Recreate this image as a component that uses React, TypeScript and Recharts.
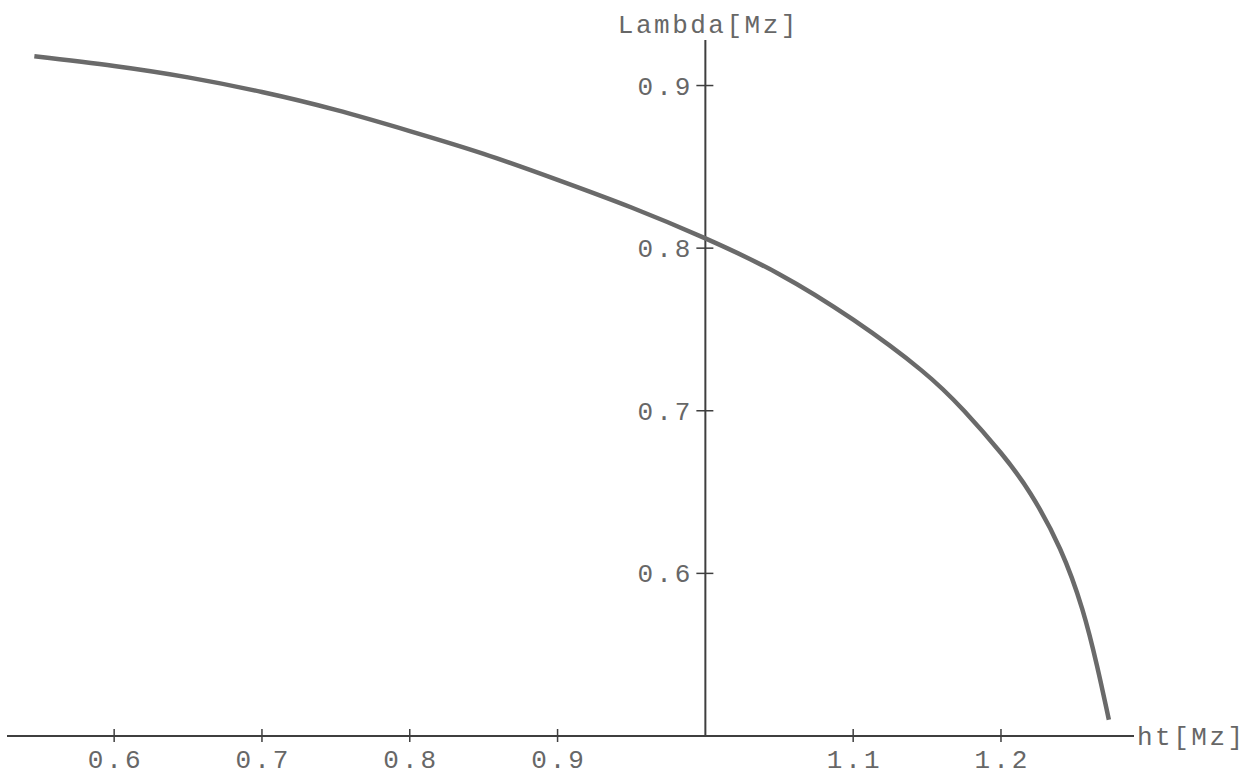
import { LineChart, Line, XAxis, YAxis, ReferenceLine, ReferenceDot } from 'recharts';

// curve: ht [Mz] -> Lambda [Mz]
const htValues = [0.546, 0.6, 0.65, 0.7, 0.75, 0.8, 0.85, 0.9, 0.95, 1.0, 1.05, 1.1, 1.146, 1.175, 1.2, 1.22, 1.24, 1.255, 1.265, 1.273];
const lambdaValues = [0.918, 0.912, 0.905, 0.896, 0.885, 0.872, 0.858, 0.842, 0.825, 0.806, 0.784, 0.756, 0.725, 0.7, 0.674, 0.649, 0.615, 0.578, 0.543, 0.51];

const xTicks = [0.6, 0.7, 0.8, 0.9, 1.1, 1.2];
const yTicks = [0.6, 0.7, 0.8, 0.9];
const xDomain = [0.5275, 1.29];
const yDomain = [0.5, 0.928];
const xLabel = 'ht[Mz]';
const yLabel = 'Lambda[Mz]';

const data = htValues.map((x, i) => ({ x, y: lambdaValues[i] }));

const FONT = '"Liberation Mono", "DejaVu Sans Mono", monospace';
const TEXT = '#676767';
const AXIS = '#3f3f3f';

function XTick(props: any) {
  const { x, y, payload } = props;
  return (
    <g>
      <line x1={x} x2={x} y1={y - 7} y2={y + 6} stroke={AXIS} strokeWidth={1.5} />
      <text
        x={x + 1.5}
        y={y + 32}
        textAnchor="middle"
        fontFamily={FONT}
        fontSize={26}
        letterSpacing={3}
        fill={TEXT}
      >
        {String(payload.value)}
      </text>
    </g>
  );
}

function YTick(props: any) {
  const { cx, cy, label } = props;
  if (cx == null || cy == null) return null;
  return (
    <g>
      <line x1={cx - 9} x2={cx + 8} y1={cy} y2={cy} stroke={AXIS} strokeWidth={1.5} />
      <text
        x={cx - 12}
        y={cy + 9}
        textAnchor="end"
        fontFamily={FONT}
        fontSize={26}
        letterSpacing={3}
        fill={TEXT}
      >
        {label}
      </text>
    </g>
  );
}

function XAxisLabel(props: any) {
  const { viewBox } = props;
  if (!viewBox) return null;
  return (
    <text
      x={viewBox.x + viewBox.width + 3}
      y={viewBox.y + 9}
      fontFamily={FONT}
      fontSize={26}
      letterSpacing={2.5}
      fill={TEXT}
    >
      {xLabel}
    </text>
  );
}

function YAxisLabel(props: any) {
  const { viewBox } = props;
  if (!viewBox) return null;
  return (
    <text
      x={viewBox.x + 3}
      y={viewBox.y - 7}
      textAnchor="middle"
      fontFamily={FONT}
      fontSize={26}
      letterSpacing={2.5}
      fill={TEXT}
    >
      {yLabel}
    </text>
  );
}

export default function App() {
  return (
    <div style={{ position: 'absolute', left: 0, top: 0, width: 1258, height: 782, background: '#fff' }}>
      <LineChart
        width={1258}
        height={782}
        data={data}
        margin={{ top: 40, right: 124, left: 7, bottom: 6 }}
      >
        <XAxis
          dataKey="x"
          type="number"
          domain={xDomain}
          allowDataOverflow
          ticks={xTicks}
          height={40}
          tickSize={0}
          tickMargin={0}
          tickLine={false}
          axisLine={{ stroke: AXIS, strokeWidth: 2 }}
          tick={<XTick />}
          label={<XAxisLabel />}
        />
        <YAxis type="number" domain={yDomain} allowDataOverflow hide />
        <ReferenceLine x={1} stroke={AXIS} strokeWidth={2} label={<YAxisLabel />} />
        {yTicks.map((v) => (
          <ReferenceDot
            key={v}
            x={1}
            y={v}
            r={0}
            shape={(p: any) => <YTick {...p} label={String(v)} />}
          />
        ))}
        <Line
          type="natural"
          dataKey="y"
          stroke="#6a6a6a"
          strokeWidth={4.5}
          dot={false}
          isAnimationActive={false}
        />
      </LineChart>
    </div>
  );
}
